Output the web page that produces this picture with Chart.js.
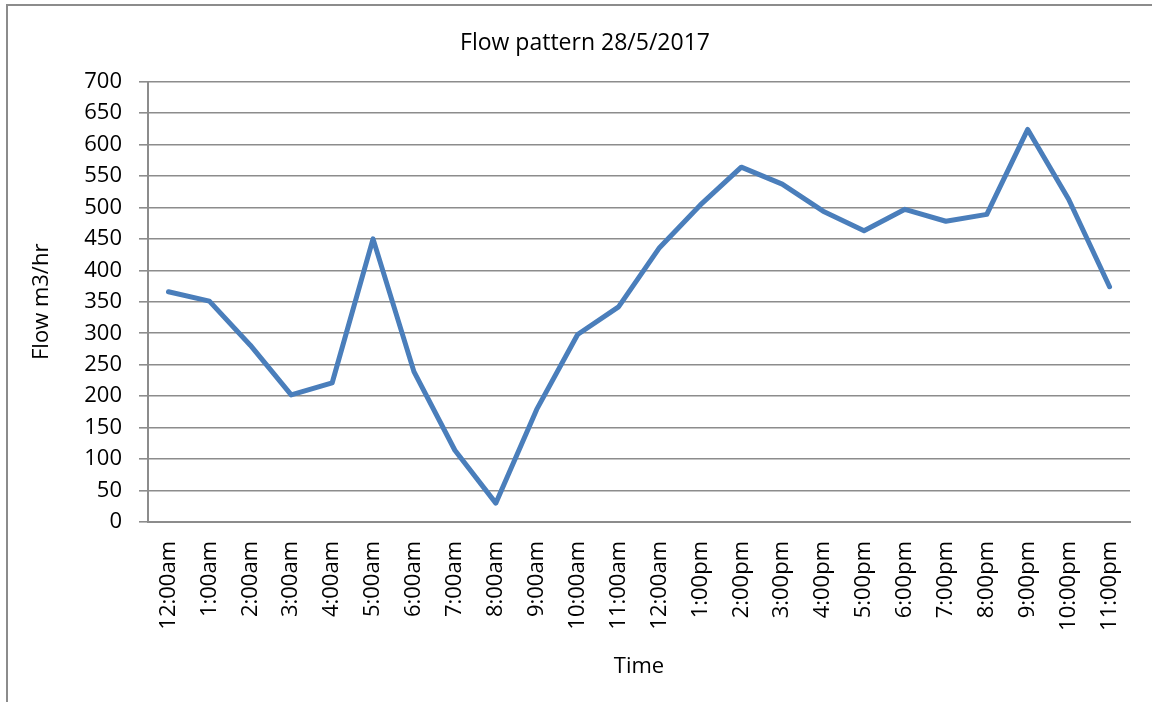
<!DOCTYPE html>
<html lang="en">
<head>
    <meta charset="UTF-8">
    <title>Flow pattern 28/5/2017</title>
    <script src="https://cdn.jsdelivr.net/npm/chart.js"></script>
    <style>
        html, body { margin: 0; padding: 0; background: #fff; overflow: hidden; }
        #wrap { position: relative; width: 1152px; height: 702px; }
        #frame { position: absolute; left: 6px; top: 4px; width: 1200px; height: 800px;
                 border-left: 2px solid #8c8c8c; border-top: 2px solid #8c8c8c; }
        canvas { position: absolute; left: 0; top: 0; }
    </style>
</head>
<body>
    <div id="wrap">
        <div id="frame"></div>
        <canvas id="flowChart" width="1152" height="702"></canvas>
    </div>

    <script>
        // hourly labels as printed on the x axis (the second "12:00am" is how the source has it)
        const hours = ['12:00am', '1:00am', '2:00am', '3:00am', '4:00am', '5:00am', '6:00am', '7:00am',
                       '8:00am', '9:00am', '10:00am', '11:00am', '12:00am', '1:00pm', '2:00pm', '3:00pm',
                       '4:00pm', '5:00pm', '6:00pm', '7:00pm', '8:00pm', '9:00pm', '10:00pm', '11:00pm'];
        // flow readings, m3/hr
        const flow = [366, 351, 281, 202, 221, 450, 239, 114, 30, 179, 298, 342,
                      436, 504, 564, 537, 494, 463, 497, 478, 489, 624, 513, 374];
        const yMin = 0, yMax = 700, yStep = 50;

        const font = 'Open Sans, sans-serif';
        const gridGray = '#8c8c8c';

        // nudge the title a bit right, the source centres it over the plot rather than the canvas
        const titleNudge = {
            id: 'titleNudge',
            afterLayout(chart) {
                if (chart.titleBlock) chart.titleBlock.left += 40;
            }
        };

        const ctx = document.getElementById('flowChart').getContext('2d');
        new Chart(ctx, {
            type: 'line',
            data: {
                labels: hours,
                datasets: [{
                    label: 'Flow',
                    data: flow,
                    borderColor: '#4a7ebb',
                    borderWidth: 5,
                    borderCapStyle: 'round',
                    borderJoinStyle: 'round',
                    pointRadius: 0,
                    tension: 0,
                    fill: false
                }]
            },
            options: {
                responsive: false,
                animation: false,
                devicePixelRatio: 1,
                layout: { padding: { left: 0, right: 22, top: 0, bottom: 0 } },
                plugins: {
                    legend: { display: false },
                    tooltip: { enabled: false },
                    title: {
                        display: true,
                        text: 'Flow pattern 28/5/2017',
                        color: '#000',
                        font: { family: font, size: 23, weight: 'normal', lineHeight: 1.2 },
                        padding: { top: 30, bottom: 24 }
                    }
                },
                scales: {
                    x: {
                        offset: true,
                        grid: { display: false, drawTicks: false },
                        border: { display: true, color: gridGray, width: 2 },
                        ticks: {
                            color: '#000',
                            font: { family: font, size: 22 },
                            minRotation: 90, maxRotation: 90,
                            autoSkip: false,
                            padding: 19
                        },
                        title: {
                            display: true,
                            text: 'Time',
                            color: '#000',
                            font: { family: font, size: 22, lineHeight: 1.2 },
                            padding: { top: 0, bottom: 22 }
                        },
                        afterFit: scale => {
                            scale.height = 180;
                            scale.paddingLeft = 0;
                            scale.paddingRight = 0;
                        }
                    },
                    y: {
                        min: yMin,
                        max: yMax,
                        grid: { color: gridGray, lineWidth: 1.6, tickLength: 9 },
                        border: { display: true, color: gridGray, width: 2 },
                        ticks: {
                            stepSize: yStep,
                            color: '#000',
                            font: { family: font, size: 22 },
                            padding: 17
                        },
                        title: {
                            display: true,
                            text: 'Flow m3/hr',
                            color: '#000',
                            font: { family: font, size: 22, lineHeight: 1.2 },
                            padding: { top: 29, bottom: 0 }
                        },
                        afterFit: scale => { scale.width = 148; }
                    }
                }
            },
            plugins: [titleNudge]
        });
    </script>
</body>
</html>
